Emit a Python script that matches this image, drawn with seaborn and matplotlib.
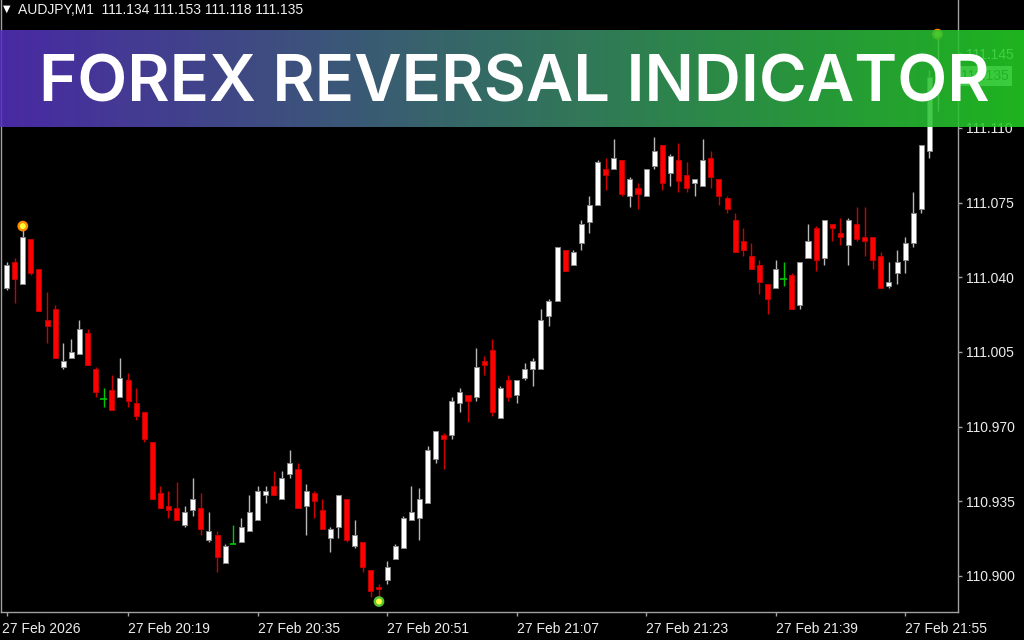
import numpy as np
import pandas as pd
import matplotlib
matplotlib.use("Agg")
import matplotlib.pyplot as plt
import matplotlib.transforms as mtransforms
from matplotlib.colors import LinearSegmentedColormap
import seaborn as sns

# ---------------- data ----------------
symbol_label = "AUDJPY,M1"
start_time = "2026-02-27 20:04"

opens = [111.035, 111.047, 111.037, 111.058, 111.044, 111.020, 111.025, 110.998, 111.002, 111.004,
         111.014, 110.997, 110.983, 110.987, 110.984, 110.992, 110.981, 110.977, 110.963, 110.939,
         110.933, 110.932, 110.924, 110.931, 110.932, 110.917, 110.919, 110.906, 110.915, 110.916,
         110.921, 110.926, 110.938, 110.942, 110.936, 110.948, 110.950, 110.933, 110.939, 110.931,
         110.918, 110.923, 110.936, 110.914, 110.916, 110.903, 110.895, 110.898, 110.908, 110.913,
         110.926, 110.927, 110.934, 110.955, 110.966, 110.966, 110.981, 110.985, 110.984, 111.001,
         111.006, 110.974, 110.992, 110.985, 110.993, 110.997, 110.997, 111.022, 111.029, 111.053,
         111.046, 111.056, 111.066, 111.074, 111.091, 111.091, 111.095, 111.078, 111.082, 111.078,
         111.092, 111.102, 111.089, 111.095, 111.088, 111.084, 111.083, 111.096, 111.086, 111.077,
         111.067, 111.057, 111.050, 111.046, 111.037, 111.035, 111.039, 111.041, 111.027, 111.049,
         111.063, 111.049, 111.065, 111.061, 111.055, 111.065, 111.059, 111.059, 111.050, 111.036,
         111.042, 111.048, 111.056, 111.072, 111.099, 111.134]
highs = [111.047, 111.049, 111.062, 111.058, 111.044, 111.033, 111.027, 111.009, 111.011, 111.020,
         111.016, 110.998, 110.988, 110.994, 111.002, 110.995, 110.988, 110.977, 110.963, 110.942,
         110.940, 110.944, 110.933, 110.946, 110.939, 110.930, 110.921, 110.915, 110.924, 110.927,
         110.938, 110.942, 110.942, 110.949, 110.949, 110.959, 110.953, 110.943, 110.940, 110.936,
         110.923, 110.938, 110.936, 110.926, 110.916, 110.903, 110.896, 110.907, 110.915, 110.928,
         110.942, 110.941, 110.961, 110.968, 110.967, 110.984, 110.988, 110.985, 111.007, 111.003,
         111.011, 110.989, 110.994, 110.992, 111.000, 111.002, 111.025, 111.030, 111.054, 111.053,
         111.053, 111.067, 111.078, 111.095, 111.096, 111.105, 111.095, 111.087, 111.084, 111.091,
         111.106, 111.102, 111.098, 111.103, 111.094, 111.086, 111.105, 111.099, 111.086, 111.078,
         111.070, 111.063, 111.056, 111.048, 111.037, 111.048, 111.047, 111.042, 111.047, 111.065,
         111.064, 111.067, 111.065, 111.068, 111.068, 111.073, 111.073, 111.059, 111.052, 111.047,
         111.053, 111.059, 111.080, 111.102, 111.137, 111.153]
lows = [111.034, 111.028, 111.037, 111.041, 111.024, 111.009, 111.002, 110.997, 111.002, 111.004,
        110.999, 110.984, 110.979, 110.978, 110.984, 110.979, 110.973, 110.963, 110.936, 110.932,
        110.927, 110.926, 110.923, 110.928, 110.919, 110.916, 110.902, 110.906, 110.915, 110.916,
        110.921, 110.926, 110.934, 110.938, 110.936, 110.946, 110.932, 110.919, 110.927, 110.922,
        110.911, 110.918, 110.916, 110.913, 110.902, 110.890, 110.889, 110.896, 110.908, 110.913,
        110.926, 110.917, 110.934, 110.953, 110.950, 110.964, 110.977, 110.972, 110.982, 110.994,
        110.975, 110.974, 110.982, 110.981, 110.992, 110.989, 110.997, 111.017, 111.029, 111.043,
        111.046, 111.053, 111.061, 111.074, 111.081, 111.091, 111.078, 111.073, 111.072, 111.078,
        111.091, 111.081, 111.083, 111.080, 111.080, 111.078, 111.083, 111.082, 111.074, 111.070,
        111.052, 111.050, 111.044, 111.032, 111.023, 111.035, 111.036, 111.025, 111.025, 111.049,
        111.043, 111.046, 111.057, 111.055, 111.046, 111.057, 111.050, 111.044, 111.035, 111.035,
        111.037, 111.042, 111.054, 111.070, 111.096, 111.118]
closes = [111.046, 111.039, 111.059, 111.042, 111.024, 111.017, 111.002, 111.001, 111.005, 111.016,
          110.999, 110.986, 110.983, 110.978, 110.993, 110.982, 110.975, 110.964, 110.936, 110.932,
          110.931, 110.926, 110.930, 110.936, 110.922, 110.921, 110.909, 110.914, 110.915, 110.923,
          110.930, 110.940, 110.940, 110.938, 110.946, 110.953, 110.932, 110.940, 110.935, 110.922,
          110.922, 110.938, 110.917, 110.919, 110.904, 110.893, 110.894, 110.904, 110.914, 110.927,
          110.930, 110.936, 110.959, 110.968, 110.964, 110.982, 110.986, 110.982, 110.998, 110.999,
          110.977, 110.988, 110.984, 110.992, 110.997, 111.001, 111.020, 111.029, 111.054, 111.043,
          111.052, 111.065, 111.074, 111.094, 111.088, 111.096, 111.079, 111.086, 111.079, 111.091,
          111.099, 111.084, 111.097, 111.085, 111.082, 111.086, 111.095, 111.087, 111.078, 111.072,
          111.052, 111.053, 111.044, 111.038, 111.030, 111.044, 111.039, 111.025, 111.047, 111.057,
          111.048, 111.067, 111.063, 111.059, 111.067, 111.058, 111.057, 111.048, 111.035, 111.038,
          111.047, 111.056, 111.070, 111.102, 111.134, 111.135]

# reversal indicator signals (bar index, price, type)
signal_idx = [2, 46, 115]
signal_price = [111.064, 110.888, 111.154]
signal_type = ["sell", "buy", "sell"]

price_ticks = [110.900, 110.935, 110.970, 111.005, 111.040, 111.075, 111.110, 111.145]
time_tick_idx = [0, 15, 31, 47, 63, 79, 95, 111]
time_tick_labels = ["27 Feb 2026", "27 Feb 20:19", "27 Feb 20:35", "27 Feb 20:51",
                    "27 Feb 21:07", "27 Feb 21:23", "27 Feb 21:39", "27 Feb 21:55"]
banner_title = "FOREX REVERSAL INDICATOR"

# ---------------- style ----------------
sns.set_theme(style="dark", rc={
    "figure.facecolor": "black", "axes.facecolor": "black",
    "axes.edgecolor": "#a0a0a0", "axes.linewidth": 1.0,
    "text.color": "#e8e8e8", "xtick.color": "#a0a0a0", "ytick.color": "#a0a0a0",
    "xtick.labelcolor": "#ececec", "ytick.labelcolor": "#ececec",
    "axes.grid": False,
})
plt.rcParams["font.family"] = ["Liberation Sans", "DejaVu Sans"]

n = len(opens)
df = pd.DataFrame({
    "time": pd.date_range(start_time, periods=n, freq="min"),
    "open": opens, "high": highs, "low": lows, "close": closes,
})
df["x"] = np.arange(n)
df["kind"] = np.where(df["close"] > df["open"], "bull",
                      np.where(df["close"] < df["open"], "bear", "doji"))

W, H = 1024, 640
fig = plt.figure(figsize=(W / 100, H / 100), dpi=100)
ax = fig.add_axes([1 / W, 1 - 612 / H, 957 / W, 612 / H])

# wicks
wick_col = df["kind"].map({"bull": "#b8b8b8", "bear": "#d00000", "doji": "#00c800"})
ax.vlines(df["x"], df["low"], df["high"], colors=wick_col, linewidth=1.0, zorder=2)

# bodies
body = df[df["kind"] != "doji"]
ax.bar(body["x"], (body["close"] - body["open"]).abs(),
       bottom=body[["open", "close"]].min(axis=1), width=0.62,
       color=body["kind"].map({"bull": "#ffffff", "bear": "#ff0000"}),
       edgecolor=body["kind"].map({"bull": "#8a8a8a", "bear": "#c00000"}),
       linewidth=0.7, zorder=3)

# doji crosses
doji = df[df["kind"] == "doji"]
ax.hlines(doji["open"], doji["x"] - 0.4, doji["x"] + 0.4, colors="#00c800", linewidth=1.2, zorder=3)

# reversal dots
sig = pd.DataFrame({"x": signal_idx, "price": signal_price, "type": signal_type})
sns.scatterplot(data=sig, x="x", y="price", hue="type",
                palette={"sell": "#ff8c00", "buy": "#59c236"}, s=60,
                edgecolor="none", legend=False, ax=ax, zorder=5)
sns.scatterplot(data=sig, x="x", y="price", color="#ffff3a", s=18,
                edgecolor="none", legend=False, ax=ax, zorder=6)

ax.set_xlim(-0.69, 117.53)
ax.set_ylim(110.8831, 111.1700)
ax.set_xlabel("")
ax.set_ylabel("")
ax.spines["top"].set_visible(False)

ax.yaxis.tick_right()
ax.set_yticks(price_ticks)
ax.set_yticklabels([f"{v:.3f}" for v in price_ticks])
ax.tick_params(axis="y", length=3, width=1, pad=3, labelsize=10, left=False, right=True)

ax.set_xticks(time_tick_idx)
ax.set_xticklabels(time_tick_labels)
ax.tick_params(axis="x", length=3, width=1, pad=4, labelsize=10, bottom=True)
for lbl in ax.get_xticklabels():
    lbl.set_ha("left")
# the date label at the left edge sits a little left of its bar
first_lbl = ax.get_xticklabels()[0]
first_lbl.set_transform(first_lbl.get_transform() +
                        mtransforms.ScaledTranslation(-3 / 72, 0, fig.dpi_scale_trans))

# current price label
last = df.iloc[-1]
trans = mtransforms.blended_transform_factory(ax.transAxes, ax.transData)
ax.text(1.003, last["close"] - 0.0005, f"{last['close']:.3f}", transform=trans, ha="left",
        va="center", fontsize=10, color="#101010", clip_on=False, zorder=7,
        bbox=dict(boxstyle="square,pad=0.22", fc="#c8c8c8", ec="none"))

# header text
fig.text(3 / W, 1 - 12 / H, "\u25BC", fontsize=7, color="white", va="baseline",
         family=["DejaVu Sans"])
fig.text(18 / W, 1 - 14.5 / H,
         f"{symbol_label}  {last['open']:.3f} {last['high']:.3f} {last['low']:.3f} {last['close']:.3f}",
         fontsize=10, color="#f0f0f0", va="baseline")

# banner
bax = fig.add_axes([0, 1 - 127 / H, 1, 97 / H], zorder=10)
cmap = LinearSegmentedColormap.from_list("banner", ["#5530be", "#24d024"])
bax.imshow(np.linspace(0, 1, 512)[None, :], aspect="auto", cmap=cmap, alpha=0.87,
           extent=[0, 1, 0, 1])
bax.set_axis_off()

title = fig.text(514 / W, 1 - 101 / H, banner_title, ha="center", va="baseline",
                 color="white", fontsize=48, fontweight="semibold",
                 family=["Inter", "DejaVu Sans"], zorder=11)
fig.canvas.draw()
bb = title.get_window_extent()
title.set_fontsize(48 * 952 / bb.width)

fig.savefig("out.png", dpi=100, facecolor="black")
